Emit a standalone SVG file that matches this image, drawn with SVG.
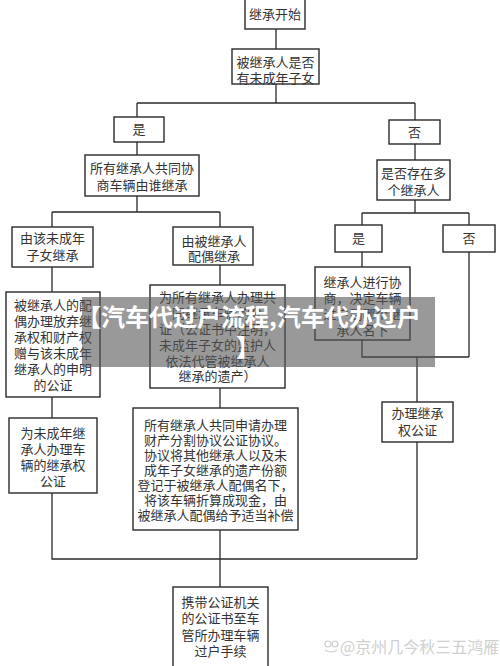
<svg xmlns="http://www.w3.org/2000/svg" width="500" height="666" viewBox="0 0 500 666">
<style>
.b{fill:#fff;stroke:#2a2a2a;stroke-width:1.4}
.t{font-family:"Noto Sans CJK SC","Noto Sans",sans-serif;font-size:13px;fill:#333;text-anchor:middle}
.c{fill:none;stroke:#2a2a2a;stroke-width:1.3}
.ban{font-family:"Noto Sans CJK SC","Noto Sans",sans-serif;font-size:24px;font-weight:bold;fill:#fff}
</style>
<rect width="500" height="666" fill="#fff"/>
<g id="connectors">
<path class="c" d="M276,29V49 M276,84V103 M137,103H415 M137,103V117 M415,103V120 M137,142V155 M415,144V160 M137,196V212 M52,212H220 M52,212V227 M220,212V227 M415,200V213 M362,213H469 M362,213V225 M469,213V225 M52,267V292 M220,265V285 M362,252V267 M469,252V357 M362,340V357 H469 M417,357V402 M52,397V418 M220,388V408 M52,493V559 H417 M417,442V559 M220,530V587"/>
</g>
<g id="n1"><rect class="b" x="245" y="-2" width="60" height="31"/><text class="t" x="275" y="19">继承开始</text></g>
<g id="n2"><rect class="b" x="232" y="49" width="87" height="35"/><text class="t" x="275.5" y="66.5">被继承人是否</text><text class="t" x="275.5" y="82.5">有未成年子女</text></g>
<g id="n3"><rect class="b" x="114" y="117" width="50" height="25"/><text class="t" x="139" y="134">是</text></g>
<g id="n4"><rect class="b" x="389" y="120" width="51" height="24"/><text class="t" x="414.5" y="136.5">否</text></g>
<g id="n5"><rect class="b" x="85" y="155" width="114" height="41"/><text class="t" x="142" y="172.5">所有继承人共同协</text><text class="t" x="142" y="189.5">商车辆由谁继承</text></g>
<g id="n6"><rect class="b" x="377" y="160" width="73" height="40"/><text class="t" x="413.5" y="177.5">是否存在多</text><text class="t" x="413.5" y="194.5">个继承人</text></g>
<g id="n7"><rect class="b" x="12" y="227" width="81" height="40"/><text class="t" x="52.5" y="242.5">由该未成年</text><text class="t" x="52.5" y="259.5">子女继承</text></g>
<g id="n8"><rect class="b" x="173" y="227" width="80" height="38"/><text class="t" x="214" y="245.5">由被继承人</text><text class="t" x="214" y="260.5">配偶继承</text></g>
<g id="n9"><rect class="b" x="335" y="225" width="47" height="27"/><text class="t" x="358.5" y="243">是</text></g>
<g id="n10"><rect class="b" x="443" y="225" width="52" height="27"/><text class="t" x="469" y="243">否</text></g>
<g id="n11"><rect class="b" x="6" y="292" width="94" height="105"/>
<text class="t" x="53" y="309.5">被继承人的配</text><text class="t" x="53" y="325.5">偶办理放弃继</text><text class="t" x="53" y="341.5">承权和财产权</text><text class="t" x="53" y="357.5">赠与该未成年</text><text class="t" x="53" y="373.5">继承人的申明</text><text class="t" x="53" y="389.5">的公证</text></g>
<g id="n12"><rect class="b" x="150" y="285" width="135" height="103"/>
<text class="t" x="217.5" y="302">为所有继承人办理共</text><text class="t" x="217.5" y="318">同继承车辆的公</text><text class="t" x="217.5" y="334">证（公证书中注明，</text><text class="t" x="217.5" y="350">未成年子女的监护人</text><text class="t" x="217.5" y="366">依法代管被继承人</text><text class="t" x="217.5" y="381">继承的遗产）</text></g>
<g id="n13"><rect class="b" x="315" y="267" width="95" height="73"/>
<text class="t" x="362.5" y="286.5">继承人进行协</text><text class="t" x="362.5" y="302.5">商，决定车辆</text><text class="t" x="362.5" y="318.5">过户到哪个继</text><text class="t" x="362.5" y="334.5">承人名下</text></g>
<g id="n14"><rect class="b" x="382" y="402" width="71" height="40"/><text class="t" x="417.5" y="417.5">办理继承</text><text class="t" x="417.5" y="434.5">权公证</text></g>
<g id="n15"><rect class="b" x="9" y="418" width="88" height="75"/>
<text class="t" x="53" y="437.5">为未成年继</text><text class="t" x="53" y="453.5">承人办理车</text><text class="t" x="53" y="469.5">辆的继承权</text><text class="t" x="53" y="485.5">公证</text></g>
<g id="n16"><rect class="b" x="133" y="408" width="165" height="122"/>
<text class="t" x="215.5" y="429.5">所有继承人共同申请办理</text><text class="t" x="215.5" y="445">财产分割协议公证协议。</text><text class="t" x="215.5" y="460">协议将其他继承人以及未</text><text class="t" x="215.5" y="475">成年子女继承的遗产份额</text><text class="t" x="215.5" y="490">登记于被继承人配偶名下，</text><text class="t" x="215.5" y="505">将该车辆折算成现金，由</text><text class="t" x="215.5" y="520">被继承人配偶给予适当补偿</text></g>
<g id="n17"><rect class="b" x="173" y="587" width="95" height="82"/>
<text class="t" x="220.5" y="606.5">携带公证机关</text><text class="t" x="220.5" y="623">的公证书至车</text><text class="t" x="220.5" y="639.5">管所办理车辆</text><text class="t" x="220.5" y="656">过户手续</text></g>
<g id="banner">
<rect x="82" y="297" width="353" height="70" fill="#555" fill-opacity="0.6"/>
<text class="ban" x="77" y="326">【汽车代过户流程,汽车代办过户</text>
<text class="ban" x="236" y="356">】</text>
</g>
<g id="watermark" fill="none" stroke="#cfcfcf" stroke-width="1.2">
<circle cx="328" cy="644" r="3"/><circle cx="335" cy="644" r="3"/><path d="M325,650 Q331,654 337,650"/>
<text x="340" y="653" style="font-family:'Noto Sans CJK SC',sans-serif;font-size:16px;fill:#d0d0d0;stroke:none">@京州几今秋三五鸿雁</text>
</g>
</svg>
